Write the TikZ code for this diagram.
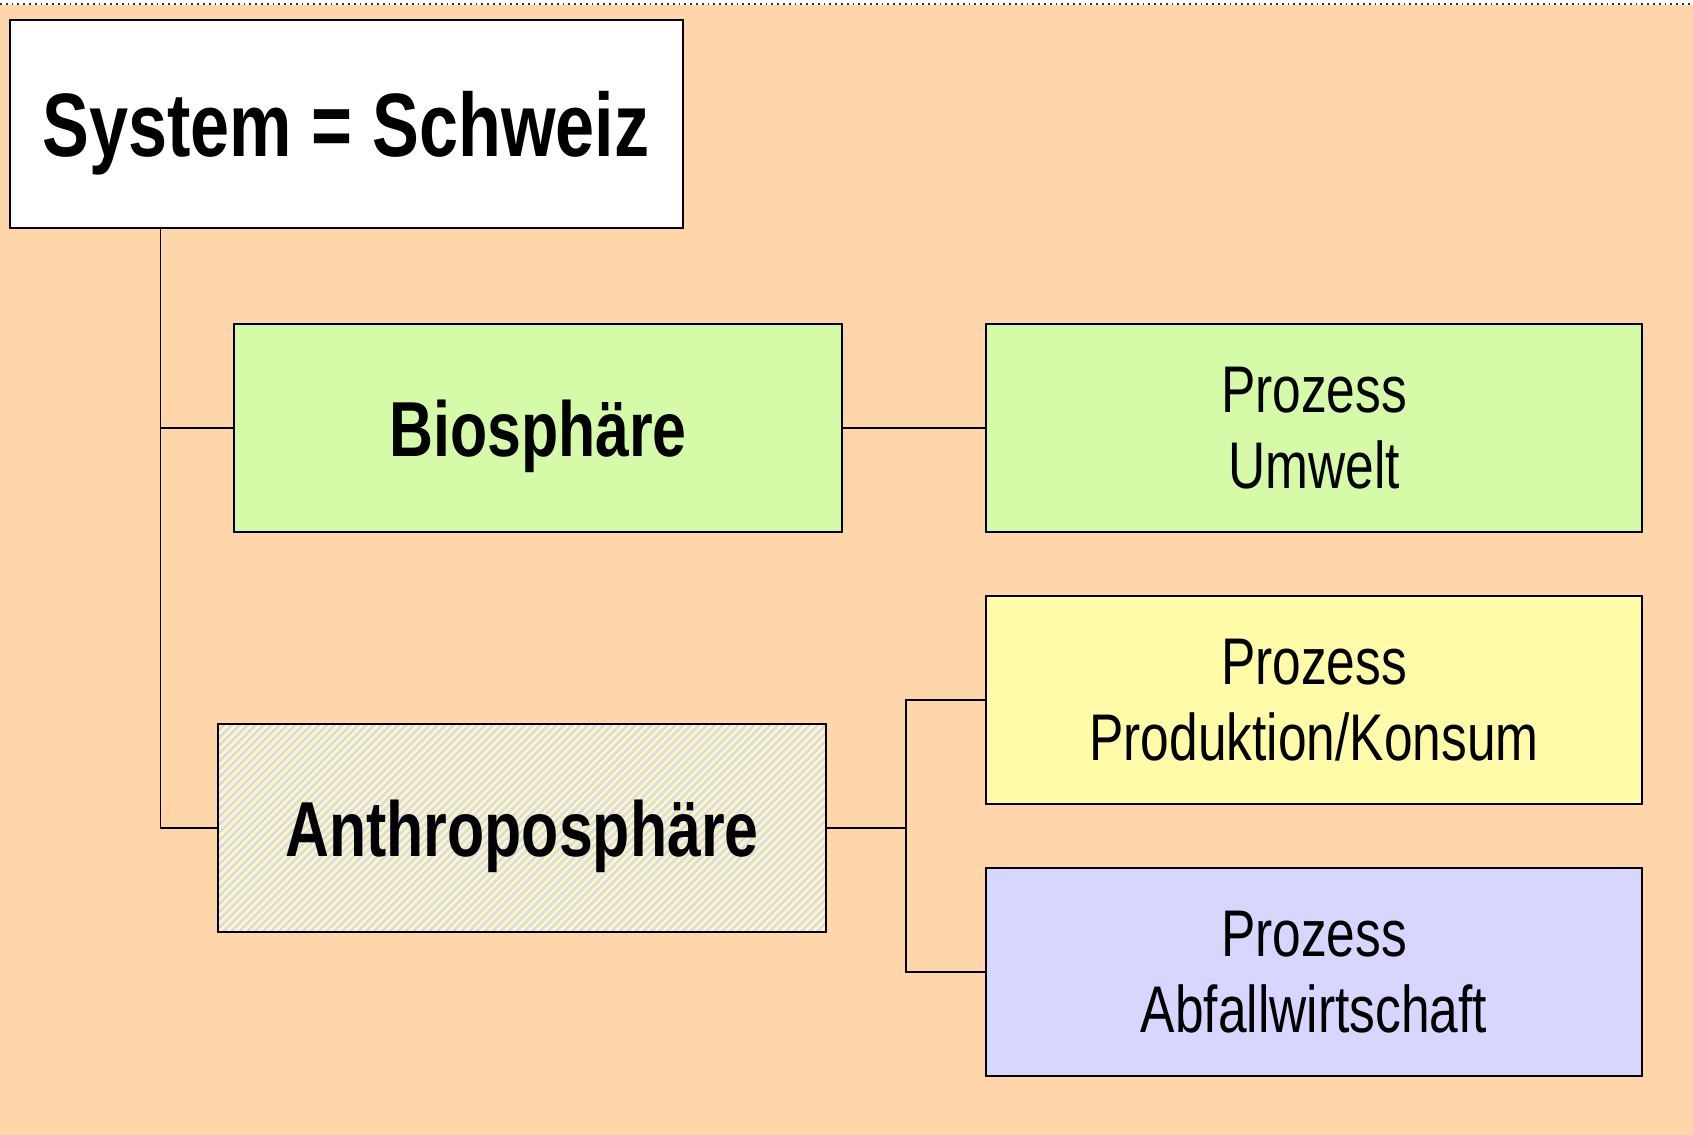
\documentclass[tikz,border=0pt]{standalone}
\usepackage{fontspec}
\setmainfont[FakeStretch=0.78]{Liberation Sans}
\usetikzlibrary{patterns.meta}
\definecolor{peach}{RGB}{255,213,170}
\definecolor{biogreen}{RGB}{213,251,169}
\definecolor{prodyellow}{RGB}{255,251,168}
\definecolor{wasteblue}{RGB}{214,214,255}
\tikzset{
  box/.style={draw=black, line width=1pt, inner sep=0pt, minimum height=104pt, align=center},
  sysbox/.style={box, fill=white, minimum width=336.5pt, text depth=0pt, font=\bfseries\fontsize{45}{50}\selectfont},
  spherebox/.style={box, minimum width=304pt, text depth=0pt, font=\bfseries\fontsize{39}{44}\selectfont},
  procbox/.style={box, minimum width=328pt, font=\fontsize{33}{37.8}\selectfont},
  conn/.style={line width=0.8pt, black}
}
\begin{document}
\begin{tikzpicture}[x=0.5pt, y=-0.5pt]
        \useasboundingbox (0,0) rectangle (1693,1135);
        \fill [peach] (0,5) rectangle (1693,1135);
        \draw [line width=0.9pt, dotted, black!80] (0,4) -- (1693,4);
        % system and spheres
        \node [sysbox] (system) at (346,124) {System = Schweiz};
        \node [spherebox, fill=biogreen] (bio) at (538,428) {Biosphäre};
        \node [spherebox, preaction={fill=wasteblue}, pattern={Lines[angle=45,distance=2.8pt,line width=1.4pt]}, pattern color=prodyellow] (anthro) at (522,828) {Anthroposphäre};
        % processes
        \node [procbox, fill=biogreen] (umwelt) at (1314,428) {Prozess\\Umwelt};
        \node [procbox, fill=prodyellow] (produktion) at (1314,700) {Prozess\\Produktion/Konsum};
        \node [procbox, fill=wasteblue] (abfall) at (1314,972) {Prozess\\Abfallwirtschaft};
        % connectors
        \coordinate (trunk) at ([xshift=76pt]system.south west);
        \coordinate (fork) at (906,828);
        \draw [conn] (trunk) |- (bio.west);
        \draw [conn] (trunk) |- (anthro.west);
        \draw [conn] (bio.east) -- (umwelt.west);
        \draw [conn] (anthro.east) -- (fork);
        \draw [conn] (produktion.west) -| (fork) |- (abfall.west);
    \end{tikzpicture}
\end{document}
